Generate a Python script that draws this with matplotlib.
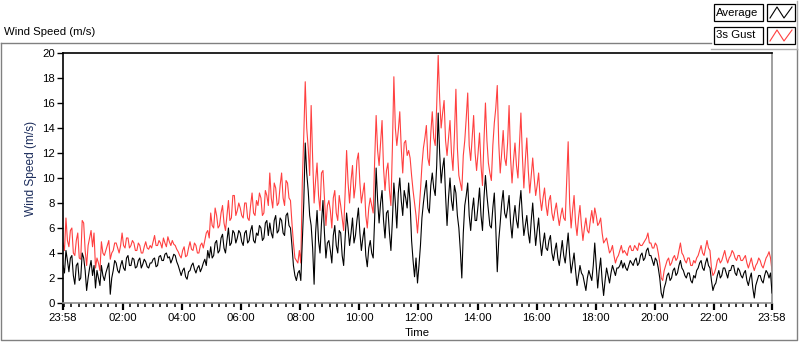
import numpy as np
import matplotlib
matplotlib.use("Agg")
import matplotlib.pyplot as plt
from matplotlib.patches import Rectangle
from matplotlib.lines import Line2D
from matplotlib.ticker import FixedLocator

plt.rcParams['font.family'] = ['Liberation Sans', 'DejaVu Sans']

# ---- data (minutes since 23:58, 3-minute steps, one row per hour) ----
step_min = 3
average = [
    3.0,2.4,4.2,3.4,2.5,3.6,3.8,2.2,1.5,3.0,3.2,1.8,2.0,4.0,3.6,2.6,1.0,2.0,2.8,3.4,
    2.2,3.0,1.2,2.6,2.0,1.4,3.0,2.2,1.8,2.4,2.8,3.2,0.7,2.0,2.6,3.4,3.2,2.6,2.4,3.0,
    3.4,2.8,2.6,3.6,3.8,3.0,3.0,3.6,3.5,2.8,2.9,3.4,3.6,2.8,3.1,3.5,3.3,2.9,2.8,3.2,
    3.2,3.5,3.6,2.9,3.0,3.7,3.8,3.4,3.4,3.9,4.0,3.6,3.7,3.2,3.5,3.9,3.8,3.3,3.0,2.6,
    2.2,2.6,2.8,2.1,1.9,2.5,2.6,3.0,3.2,2.7,2.4,2.8,3.0,2.5,2.8,3.2,3.5,3.0,4.2,3.6,
    4.5,3.6,3.8,4.8,5.0,4.0,4.2,5.2,5.5,4.4,4.0,5.0,6.0,4.6,4.8,5.8,5.6,4.8,5.2,5.8,
    5.6,4.9,4.6,5.6,5.8,4.8,5.0,5.8,6.2,5.0,4.8,5.6,5.4,6.2,6.0,5.0,5.2,6.4,6.6,5.4,
    6.4,5.6,5.2,6.6,7.0,5.6,5.8,6.8,6.6,5.6,5.4,7.0,7.2,6.2,6.0,4.6,3.0,2.2,1.8,2.4,
    2.6,1.8,5.0,8.0,12.8,10.4,9.0,7.0,6.2,4.4,1.5,5.6,7.4,5.0,4.0,6.4,8.2,5.6,3.6,4.8,
    5.0,4.2,3.2,5.4,6.2,4.6,4.0,5.8,5.6,3.8,3.0,5.2,7.2,6.0,4.6,5.6,6.8,4.8,5.4,6.6,
    7.6,5.6,4.2,5.2,6.0,3.8,2.9,4.4,5.0,4.0,3.6,6.8,10.8,8.2,6.4,8.0,9.0,6.6,5.2,7.2,
    7.4,5.6,4.2,6.6,9.6,8.0,6.0,8.8,10.0,8.2,7.0,9.0,8.4,7.6,9.6,8.0,5.0,3.4,2.1,3.6,
    1.6,3.0,4.6,6.8,8.0,9.0,9.8,7.6,7.2,9.4,10.4,9.2,8.6,11.0,15.2,12.0,9.6,10.8,11.6,8.6,
    6.2,8.4,10.0,8.2,7.4,9.4,8.8,7.0,6.0,4.2,2.0,5.6,7.8,8.6,9.6,7.0,5.8,7.4,8.4,6.6,
    6.6,7.8,9.2,7.0,5.8,8.4,10.2,8.6,7.4,6.2,6.0,7.6,8.8,6.0,2.5,5.0,6.4,8.0,9.0,7.2,
    6.8,7.6,8.6,6.4,5.2,6.8,7.8,6.6,6.0,7.8,9.0,7.0,5.4,6.2,7.0,5.6,4.8,6.6,8.0,6.2,
    4.6,5.8,6.8,5.0,3.8,4.8,5.6,4.4,4.2,5.0,5.4,4.0,3.4,4.2,4.8,3.6,3.0,4.0,5.0,3.8,
    3.2,4.4,5.6,3.8,2.4,3.2,4.0,2.6,1.4,2.2,3.0,2.4,2.2,1.6,1.0,2.0,2.6,2.2,1.8,3.0,
    4.8,3.0,1.2,2.6,3.6,1.8,0.6,1.8,2.8,2.2,1.6,2.4,3.0,2.6,2.2,2.8,2.8,3.0,3.4,2.8,
    3.2,2.8,2.6,3.0,3.4,3.2,3.0,3.4,3.6,3.0,3.2,3.8,4.0,3.4,3.6,4.2,4.4,3.8,3.8,3.4,
    3.0,3.6,3.4,2.8,2.0,0.8,0.4,1.2,1.6,2.2,2.4,1.8,2.0,2.6,2.8,2.2,2.4,3.0,3.4,2.8,
    2.6,2.2,2.0,2.4,2.4,1.8,1.6,2.2,2.0,2.6,2.8,3.2,3.4,2.8,2.6,3.2,3.6,3.0,2.8,1.8,
    1.0,1.4,1.6,2.2,2.6,2.0,2.2,2.8,2.8,2.4,2.0,2.6,2.6,3.0,3.0,2.4,2.2,2.8,2.6,2.2,
    2.0,2.4,2.6,1.8,1.4,2.0,2.4,1.2,0.4,1.4,1.8,2.2,2.2,1.8,1.6,2.2,2.6,2.4,2.0,2.4,
    0.8,
]
gust = [
    4.8,4.2,6.8,5.0,4.5,5.8,6.0,4.0,3.8,5.0,5.6,3.6,3.5,6.6,6.4,4.2,3.0,4.6,5.2,5.8,
    4.5,5.6,2.8,3.6,3.2,2.6,4.9,4.0,3.8,4.2,4.6,5.0,3.5,4.0,4.2,4.8,4.8,4.4,4.0,4.6,
    5.6,4.6,4.4,5.2,5.2,4.4,4.6,5.0,4.8,4.2,4.2,4.8,4.6,4.0,4.0,4.5,4.9,4.4,4.3,4.6,
    4.4,4.9,5.4,4.6,4.6,5.0,4.8,4.4,5.2,4.8,4.5,5.3,4.9,4.6,5.0,4.7,4.6,4.3,4.1,3.8,
    3.6,4.2,4.5,3.7,3.8,4.4,4.9,4.3,4.2,4.8,4.6,4.0,4.0,4.6,4.8,4.4,5.0,5.6,5.8,5.2,
    7.2,6.2,6.0,7.6,7.0,6.0,6.2,7.2,7.8,6.4,5.8,7.0,8.2,6.6,6.8,8.6,8.6,7.0,7.4,8.0,
    7.6,7.0,6.8,8.0,8.0,6.8,6.6,7.8,8.8,7.2,7.0,8.2,7.8,8.8,8.4,7.0,7.2,9.0,8.6,7.8,
    10.4,8.4,7.6,9.6,9.2,7.8,8.0,9.4,10.4,8.4,7.8,9.8,9.6,8.4,8.2,6.4,4.8,3.6,3.4,3.2,
    4.2,3.2,9.6,13.4,17.7,14.0,12.4,10.2,15.8,11.6,8.0,9.8,11.2,8.6,7.4,10.4,10.6,8.4,6.2,7.8,
    8.2,7.4,6.0,8.4,9.0,7.2,6.6,8.6,7.8,6.8,5.8,8.8,12.2,9.6,8.0,9.8,11.0,8.4,9.4,11.4,
    12.0,9.6,8.0,8.8,9.6,7.0,6.0,7.6,8.4,7.8,7.2,11.4,15.0,12.2,11.0,12.8,14.6,10.8,9.0,10.6,
    11.2,9.0,7.8,12.4,18.1,14.0,12.6,13.8,15.3,12.4,10.4,12.8,13.0,11.8,12.2,11.6,10.2,9.0,8.0,7.0,
    5.6,7.2,9.0,11.0,12.4,13.2,14.2,11.6,11.0,13.6,15.3,13.2,12.6,15.8,19.8,16.4,14.0,15.2,16.2,13.0,
    11.8,13.2,14.6,12.0,10.6,13.4,17.1,12.4,10.2,9.6,9.0,11.8,13.0,14.8,16.8,12.6,11.4,13.2,15.0,12.0,
    10.6,12.0,13.6,11.0,9.4,13.0,16.0,13.0,11.2,10.4,9.8,12.6,14.4,15.6,17.4,12.8,10.4,12.0,13.8,11.6,
    11.0,12.8,15.8,11.6,9.6,11.4,12.8,11.0,10.0,12.6,15.2,11.8,9.2,11.4,13.2,10.6,8.8,10.2,11.6,10.0,
    8.6,9.4,10.4,8.4,7.4,8.4,9.2,7.8,7.0,8.2,8.6,7.2,6.6,7.4,8.0,7.0,6.2,7.0,7.6,6.8,
    6.6,9.8,12.9,8.0,6.0,7.4,8.6,6.4,5.4,6.8,7.8,6.2,5.0,6.0,6.8,5.8,5.6,6.6,7.4,6.4,
    7.6,7.0,6.2,6.4,6.8,5.6,4.8,5.0,5.2,4.6,4.0,4.2,4.6,3.8,3.2,3.6,3.8,4.2,4.6,4.0,
    4.2,4.0,3.8,4.4,4.6,4.2,4.2,4.6,4.4,4.2,4.8,4.6,4.6,4.8,5.0,5.2,5.6,4.8,4.8,4.4,
    4.4,4.8,4.6,4.0,3.2,2.0,1.8,2.6,3.0,3.4,3.6,3.0,3.2,3.6,3.8,3.4,3.6,4.2,4.8,4.0,
    3.8,3.4,3.2,3.6,3.6,3.0,3.0,3.4,3.2,3.6,3.8,4.2,4.6,4.0,3.8,4.4,5.0,4.4,4.2,2.8,
    2.2,2.4,2.8,3.4,3.6,3.2,3.4,3.8,4.2,3.6,3.2,3.6,3.8,4.2,4.0,3.6,3.4,3.8,3.8,3.4,
    3.4,3.6,3.8,3.2,2.8,3.2,3.6,3.0,2.6,3.0,3.2,3.6,3.4,3.0,2.8,3.2,3.6,3.8,4.1,3.6,
    2.6,
]
tick_minutes = [0, 122, 242, 362, 482, 602, 722, 842, 962, 1082, 1202, 1322, 1440]
tick_labels = ["23:58", "02:00", "04:00", "06:00", "08:00", "10:00", "12:00",
               "14:00", "16:00", "18:00", "20:00", "22:00", "23:58"]
legend_names = ["Average", "3s Gust"]
series_colors = ["#000000", "#FF4040"]

t = np.arange(len(average)) * step_min

W, H = 800, 342
fig = plt.figure(figsize=(W / 100, H / 100), dpi=100)

def fx(px):
    return px / W

def fy(py):
    return 1 - py / H

ax_l, ax_r, ax_t, ax_b = 63, 772, 53, 303
ax = fig.add_axes([fx(ax_l), fy(ax_b), (ax_r - ax_l) / W, (ax_b - ax_t) / H])

ax.plot(t, gust, color=series_colors[1], lw=0.8, zorder=2)
ax.plot(t, average, color=series_colors[0], lw=0.8, zorder=3)

ax.set_xlim(0, 1440)
ax.set_ylim(0, 20)
ax.set_yticks(np.arange(0, 21, 2))
ax.set_xticks(tick_minutes)
ax.set_xticklabels(tick_labels)
ax.xaxis.set_minor_locator(FixedLocator([2 + 15 * k for k in range(96)]))
ax.tick_params(axis='both', labelsize=8.2, direction='out', color='black')
ax.tick_params(axis='x', which='major', length=5, width=1.6, pad=2)
ax.tick_params(axis='x', which='minor', length=3, width=1.1)
ax.tick_params(axis='y', which='major', length=4, width=1, pad=2)

for side in ['top', 'left']:
    ax.spines[side].set_color('black')
    ax.spines[side].set_linewidth(1.2)
for side in ['right', 'bottom']:
    ax.spines[side].set_color('#909090')
    ax.spines[side].set_linewidth(1.2)

ax.set_ylabel("Wind Speed (m/s)", fontsize=8.6, color='#1c2d5c')
ax.yaxis.set_label_coords(-0.037, 0.54)
ax.set_xlabel("Time", fontsize=8.2, labelpad=4)

# outer frame
fig.add_artist(Line2D([fx(1), fx(1), fx(797), fx(797)], [fy(43), fy(340), fy(340), fy(49)],
                      transform=fig.transFigure, color='#808080', lw=1))
fig.add_artist(Line2D([fx(1), fx(711)], [fy(43), fy(43)], transform=fig.transFigure,
                      color='#808080', lw=1))
fig.add_artist(Line2D([fx(711), fx(797)], [fy(49), fy(49)], transform=fig.transFigure,
                      color='#b0b0b0', lw=1))
fig.add_artist(Line2D([fx(797), fx(797)], [fy(1), fy(49)], transform=fig.transFigure,
                      color='#b0b0b0', lw=1))
fig.text(fx(4), fy(32), "Wind Speed (m/s)", fontsize=8.2, va='center', ha='left')

# legend
rows_y = [(4, 21), (27, 44)]
for (y0, y1), name, col in zip(rows_y, legend_names, series_colors):
    fig.add_artist(Rectangle((fx(714), fy(y1)), (763 - 714) / W, (y1 - y0) / H,
                             transform=fig.transFigure, fill=True, facecolor='white',
                             edgecolor='black', lw=0.9))
    fig.text(fx(716), fy((y0 + y1) / 2), name, fontsize=8.2, va='center', ha='left')
    fig.add_artist(Rectangle((fx(767), fy(y1)), (795 - 767) / W, (y1 - y0) / H,
                             transform=fig.transFigure, fill=True, facecolor='white',
                             edgecolor='black', lw=0.9))
    xs = [770, 777, 784, 792]
    ys = [y1 - 3, y0 + 3, y1 - 3, y0 + 3]
    fig.add_artist(Line2D([fx(v) for v in xs], [fy(v) for v in ys],
                          transform=fig.transFigure, color=col, lw=0.8))

fig.savefig("out.png", dpi=100)
